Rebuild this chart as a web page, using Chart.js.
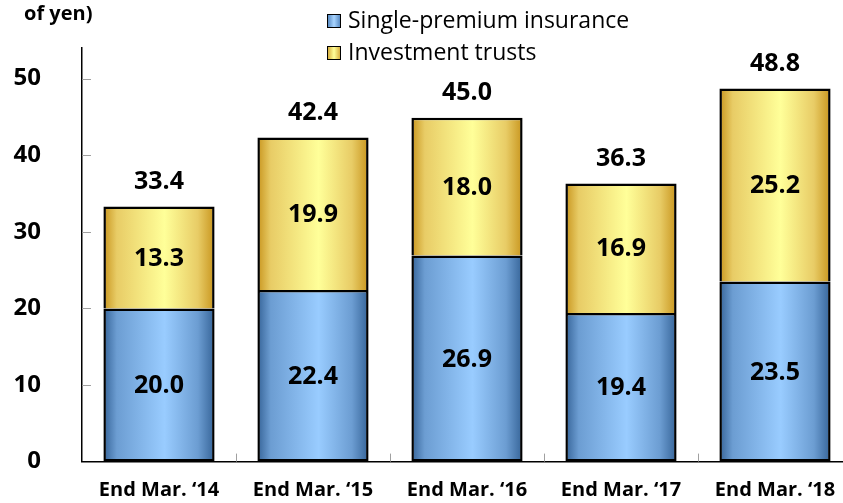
<!DOCTYPE html>
<html><head><meta charset="utf-8">
<script src="https://cdn.jsdelivr.net/npm/chart.js@4.4.0/dist/chart.umd.min.js"></script>
<style>
html,body{margin:0;padding:0;background:#fff;overflow:hidden;width:843px;height:503px;}
#wrap{position:relative;width:843px;height:503px;overflow:hidden;}
canvas{position:absolute;left:0;top:0;}
.t{position:absolute;font-family:"Open Sans",sans-serif;color:#000;white-space:nowrap;}
.box{position:absolute;width:12px;height:12px;border:1.5px solid #000;}
</style></head>
<body><div id="wrap">
<canvas id="c" width="852" height="509"></canvas>
<div class="t" style="left:24px;top:-1px;font-size:20px;font-weight:700;">of yen)</div>
<div class="box" style="left:327px;top:14px;background:linear-gradient(90deg,#5a8cc4,#a8d4ff,#5a8cc4);"></div>
<div class="t" id="l1" style="left:348px;top:3px;font-size:23px;">Single-premium insurance</div>
<div class="box" style="left:327px;top:46px;background:linear-gradient(90deg,#d8b040,#ffff99,#d8b040);"></div>
<div class="t" id="l2" style="left:348px;top:35px;font-size:23px;">Investment trusts</div>
</div>
<script>
const categories = ["End Mar. \u201814","End Mar. \u201815","End Mar. \u201816","End Mar. \u201817","End Mar. \u201818"];
const singlePremium = [20.0, 22.4, 26.9, 19.4, 23.5];
const investmentTrusts = [13.3, 19.9, 18.0, 16.9, 25.2];
const totals = ["33.4","42.4","45.0","36.3","48.8"];
const yTicks = [0,10,20,30,40,50];

const BAR_PCT = 0.722;
function grad(stops){
  return function(ctx){
    const chart = ctx.chart;
    const xs = chart.scales && chart.scales.x;
    if (!chart.chartArea || !xs) return stops[2];
    const c = xs.getPixelForValue(ctx.dataIndex);
    const w = xs.width / categories.length * BAR_PCT;
    const g = chart.ctx.createLinearGradient(c - w/2, 0, c + w/2, 0);
    g.addColorStop(0, stops[0]);
    g.addColorStop(0.12, stops[1]);
    g.addColorStop(0.55, stops[2]);
    g.addColorStop(0.85, stops[1]);
    g.addColorStop(1, stops[0]);
    return g;
  };
}
const blueStops = ["#366498","#6c9dd2","#99ccff"];
const goldStops = ["#c8951e","#e8cc66","#ffff99"];

const FONT = '"Open Sans", sans-serif';

const overlay = {
  id:'overlay',
  afterDatasetsDraw(chart){
    const ctx = chart.ctx;
    const x = chart.scales.x, y = chart.scales.y;
    ctx.save();
    ctx.strokeStyle = '#a0a0a0';
    ctx.lineWidth = 1;
    yTicks.forEach(v=>{
      if (v===0) return;
      const py = Math.round(y.getPixelForValue(v))+0.5;
      ctx.beginPath(); ctx.moveTo(x.left, py); ctx.lineTo(x.left+9, py); ctx.stroke();
    });
    for (let i=1;i<categories.length;i++){
      const px = Math.round((x.getPixelForValue(i-1)+x.getPixelForValue(i))/2)+0.5;
      ctx.beginPath(); ctx.moveTo(px, y.bottom); ctx.lineTo(px, y.bottom-8); ctx.stroke();
    }
    ctx.fillStyle = '#000';
    ctx.font = 'bold 25px ' + FONT;
    ctx.textAlign = 'center';
    ctx.textBaseline = 'middle';
    chart.data.datasets.forEach((ds, di)=>{
      const meta = chart.getDatasetMeta(di);
      meta.data.forEach((el, i)=>{
        const p = el.getProps(['x','y','base'], true);
        ctx.fillText(ds.data[i].toFixed(1), p.x, (p.y+p.base)/2 + 1);
      });
    });
    const top = chart.getDatasetMeta(1);
    top.data.forEach((el,i)=>{
      const p = el.getProps(['x','y'], true);
      ctx.fillText(totals[i], p.x, p.y - 25);
    });
    ctx.restore();
  }
};

new Chart(document.getElementById('c'), {
  type:'bar',
  data:{
    labels: categories,
    datasets:[
      {label:'Single-premium insurance', data: singlePremium, backgroundColor: grad(blueStops), borderColor:'#000', borderWidth:2.5, borderSkipped:false, inflateAmount:0, barPercentage:BAR_PCT, categoryPercentage:1},
      {label:'Investment trusts', data: investmentTrusts, backgroundColor: grad(goldStops), borderColor:'#000', borderWidth:2.5, borderSkipped:'bottom', inflateAmount:0, barPercentage:BAR_PCT, categoryPercentage:1}
    ]
  },
  options:{
    responsive:false,
    animation:false,
    events:[],
    layout:{padding:{top:48,left:0,right:0,bottom:0}},
    plugins:{legend:{display:false}, tooltip:{enabled:false}},
    scales:{
      x:{
        stacked:true,
        grid:{display:false},
        border:{display:true,color:'#000',width:1.5},
        ticks:{color:'#000', font:{family:FONT, size:20, weight:'bold'}, padding:9, maxRotation:0, autoSkip:false},
        afterFit(s){ s.height = 36; }
      },
      y:{
        stacked:true,
        min:0, max:54,
        grid:{display:false},
        border:{display:true,color:'#000',width:1.5},
        afterBuildTicks(s){ s.ticks = yTicks.map(v=>({value:v})); },
        ticks:{color:'#000', font:{family:FONT, size:24, weight:'bold'}, padding:33},
        afterFit(s){ s.width = 82; }
      }
    }
  },
  plugins:[overlay]
});
</script>
</body></html>
